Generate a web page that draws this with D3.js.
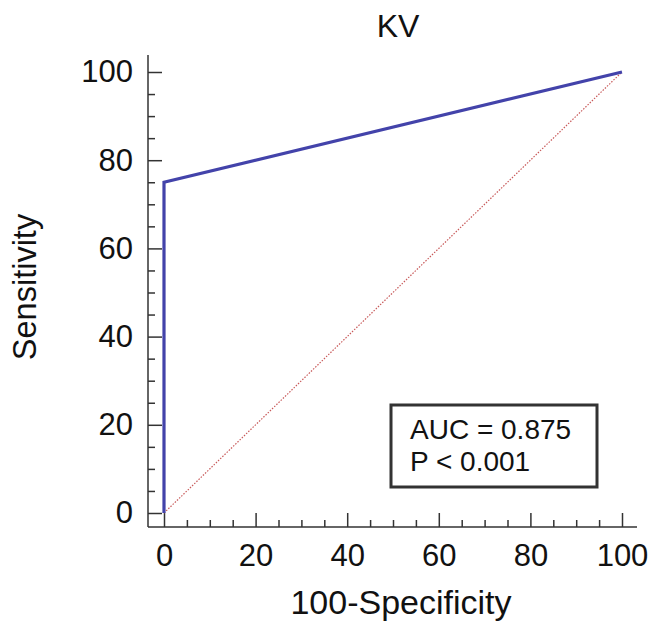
<!DOCTYPE html>
<html>
<head>
<meta charset="utf-8">
<script src="https://cdn.jsdelivr.net/npm/d3@7"></script>
<style>
  html, body { margin: 0; padding: 0; background: #fff; }
  svg { display: block; }
  text { font-family: "Liberation Sans", Arial, sans-serif; fill: #111; }
</style>
</head>
<body>
<script>
// ---- data ----
const title = "KV";
const xLabel = "100-Specificity";
const yLabel = "Sensitivity";
const rocX = [0, 0, 100];          // 100-Specificity
const rocY = [0, 75, 100];         // Sensitivity
const refX = [0, 100];
const refY = [0, 100];
const majorTicks = [0, 20, 40, 60, 80, 100];
const minorTicks = [5, 10, 15, 25, 30, 35, 45, 50, 55, 65, 70, 75, 85, 90, 95];
const statsLines = ["AUC = 0.875", "P < 0.001"];

// ---- layout ----
const W = 652, H = 621;
const svg = d3.select("body").append("svg").attr("width", W).attr("height", H);

const x = d3.scaleLinear().domain([0, 100]).range([164, 622]);
const y = d3.scaleLinear().domain([0, 100]).range([513, 72]);
const axisX = 148, axisY = 527;
const fs = 31;

// title
svg.append("text").attr("x", 398).attr("y", 37).attr("text-anchor", "middle")
  .attr("font-size", 32).text(title);

// y axis (ticks pointing inward)
const gy = svg.append("g").attr("transform", `translate(${axisX},0)`);
gy.call(d3.axisLeft(y).tickValues(majorTicks).tickSizeInner(-14).tickSizeOuter(0).tickPadding(15).tickFormat(d3.format("d")));
gy.append("g").call(d3.axisLeft(y).tickValues(minorTicks).tickSizeInner(-7).tickSizeOuter(0).tickFormat(""));
gy.selectAll(".domain").remove();
gy.selectAll("line").attr("stroke", "#333").attr("stroke-width", 1.5);
gy.selectAll("text").attr("font-size", fs).attr("font-family", "Liberation Sans, Arial, sans-serif").attr("fill", "#111");

// x axis
const gx = svg.append("g").attr("transform", `translate(0,${axisY})`);
gx.call(d3.axisBottom(x).tickValues(majorTicks).tickSizeInner(-14).tickSizeOuter(0).tickPadding(17).tickFormat(d3.format("d")));
gx.append("g").call(d3.axisBottom(x).tickValues(minorTicks).tickSizeInner(-7).tickSizeOuter(0).tickFormat(""));
gx.selectAll(".domain").remove();
gx.selectAll("line").attr("stroke", "#333").attr("stroke-width", 1.5);
gx.selectAll("text").attr("font-size", fs).attr("font-family", "Liberation Sans, Arial, sans-serif").attr("fill", "#111");

// axis lines
svg.append("line").attr("x1", axisX).attr("x2", axisX).attr("y1", 55).attr("y2", axisY)
  .attr("stroke", "#333").attr("stroke-width", 1.5);
svg.append("line").attr("x1", axisX).attr("x2", 637).attr("y1", axisY).attr("y2", axisY)
  .attr("stroke", "#333").attr("stroke-width", 1.5);

// axis titles
svg.append("text").attr("x", 401).attr("y", 614).attr("text-anchor", "middle")
  .attr("font-size", 34).text(xLabel);
svg.append("text").attr("transform", `translate(36,287) rotate(-90)`).attr("text-anchor", "middle")
  .attr("font-size", 32.5).text(yLabel);

// reference diagonal
const line = d3.line().x(d => x(d[0])).y(d => y(d[1]));
svg.append("path").datum(d3.zip(refX, refY)).attr("d", line)
  .attr("fill", "none").attr("stroke", "#c85a5a").attr("stroke-width", 1.2)
  .attr("stroke-dasharray", "1.5,1.5");

// ROC curve
svg.append("path").datum(d3.zip(rocX, rocY)).attr("d", line)
  .attr("fill", "none").attr("stroke", "#4343aa").attr("stroke-width", 3.2)
  .attr("stroke-linejoin", "miter");

// stats box
svg.append("rect").attr("x", 391).attr("y", 405).attr("width", 206).attr("height", 82)
  .attr("fill", "#fff").attr("stroke", "#333").attr("stroke-width", 3);
svg.selectAll(".stat").data(statsLines).enter().append("text")
  .attr("class", "stat").attr("x", 410).attr("y", (d, i) => 439 + i * 32)
  .attr("font-size", 28).text(d => d);
</script>
</body>
</html>
